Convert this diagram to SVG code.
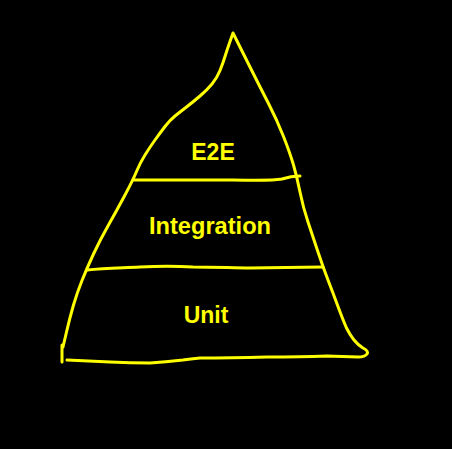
<svg xmlns="http://www.w3.org/2000/svg" width="452" height="449" viewBox="0 0 452 449">
  <style>
    .ink { fill: none; stroke: #ffff00; stroke-width: 3; stroke-linecap: round; stroke-linejoin: round; }
    .label { fill: #ffff00; font-family: "Liberation Sans", Arial, sans-serif; font-weight: bold; font-size: 23px; text-anchor: middle; }
  </style>
  <rect width="452" height="449" fill="#000000"/>

  <g id="connectors">
    <!-- freehand outline of the pyramid: left side up to the apex, right side down, base back to the start -->
    <path class="ink" d="M62,345 L62,362 M63,347 L66.5,332 Q70,317 73.5,305 Q77,293 82,280.5 Q87,268 93.5,254 Q100,240 108.5,225 Q117,210 125,195 Q133,180 136.5,171.5 Q140,163 145,155 Q150,147 155,140 Q160,133 165,126.5 Q170,120 175,116 Q180,112 186.5,107 Q193,102 200,96 Q207,90 212,84 Q217,78 220,70.5 Q223,63 225,56.5 Q227,50 230,41.5 L233,33 L238,43 Q243,53 251.5,70 Q260,87 268.5,103.5 Q277,120 283.5,136.5 Q290,153 293.5,165 Q297,177 300,192 Q303,207 308,222 Q313,237 318,252 Q323,267 328,280 Q333,293 338,306.5 Q343,320 346.5,328 Q350,335 354,340 Q358,345 363,348 Q369,351 367,354 Q365,357 358,357 L327,356 Q300,357 267,357 Q230,358 200,358 Q190,359 183,360 Q165,362 150,363 Q130,363 110,362 L67,360"/>
    <!-- top band divider -->
    <path class="ink" d="M133,180 L232,180 C250,180 270,181 282,179 C288,177 294,176 300,176"/>
    <!-- middle band divider -->
    <path class="ink" d="M87,270 C105,268 120,268 140,267 C160,266 175,266 193,267 C215,267 235,268 250,268 L323,267"/>
  </g>

  <g id="e2e">
    <text class="label" x="213" y="160">E2E</text>
  </g>
  <g id="integration">
    <text class="label" x="210" y="234" textLength="122" lengthAdjust="spacingAndGlyphs">Integration</text>
  </g>
  <g id="unit">
    <text class="label" x="206" y="323">Unit</text>
  </g>
</svg>
